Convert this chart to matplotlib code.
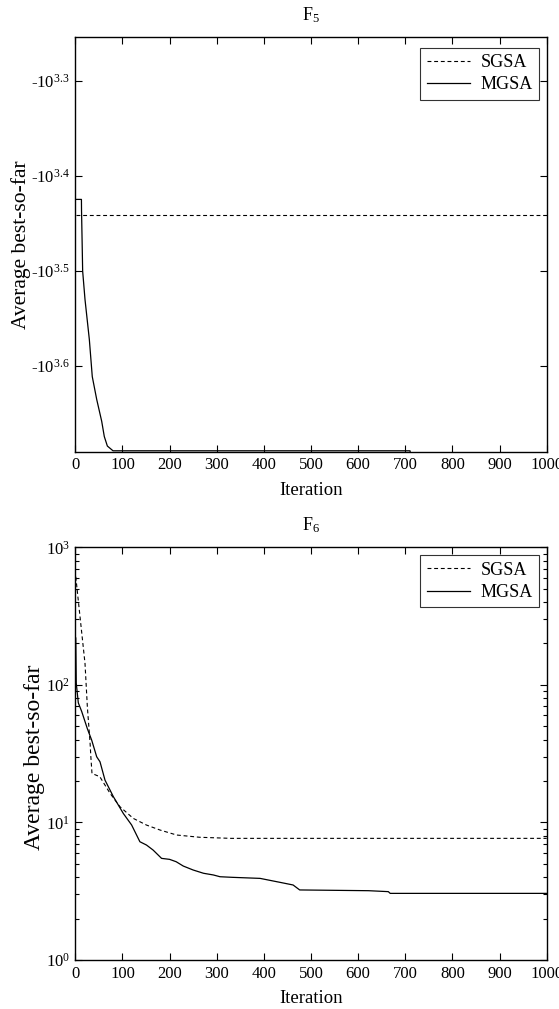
import matplotlib
matplotlib.use("Agg")
import matplotlib.pyplot as plt
import numpy as np

plt.rcParams["font.family"] = ["Liberation Serif", "DejaVu Serif"]
plt.rcParams["mathtext.fontset"] = "custom"
plt.rcParams["mathtext.rm"] = "Liberation Serif"
plt.rcParams["mathtext.it"] = "Liberation Serif:italic"

# F5: average best-so-far (negative values)
f5_sgsa_iter = [1, 1000]
f5_sgsa_val = [-2761, -2761]
f5_mgsa_iter = [1, 13, 13.2, 14.5, 15.6, 20.6, 29.8, 36, 45.4, 56, 61.5, 68, 80, 710, 712, 1000]
f5_mgsa_val = [-2658, -2658, -2729, -2951, -3162, -3388, -3733, -4083, -4315,
               -4550, -4721, -4831, -4887, -4887, -4950, -4950]
f5_yticks = [10 ** 3.3, 10 ** 3.4, 10 ** 3.5, 10 ** 3.6]
f5_yticklabels = ["-$\\mathregular{10^{3.3}}$", "-$\\mathregular{10^{3.4}}$",
                  "-$\\mathregular{10^{3.5}}$", "-$\\mathregular{10^{3.6}}$"]

# F6: average best-so-far
f6_sgsa_iter = [1, 10, 20.6, 25.6, 31.4, 33, 35.4, 52, 73.6, 94.8, 123, 151, 180, 215, 264, 330, 1000]
f6_sgsa_val = [611, 313, 143, 69, 37.6, 30, 22.7, 21.5, 16.3, 13, 10.7, 9.57, 8.8, 8.1, 7.8, 7.66, 7.66]
f6_mgsa_iter = [1, 2, 6.4, 13.6, 25.6, 34.8, 45.4, 52.4, 63, 80.7, 102, 119.5, 137, 151, 165, 183,
                200, 214, 229, 250, 272, 293, 307, 333, 392, 427, 434, 462, 476, 622, 664, 668, 1000]
f6_mgsa_val = [219, 103, 74, 64, 48, 39.6, 30, 27.6, 20.3, 15.4, 11.6, 9.58, 7.24, 6.85, 6.3, 5.48,
               5.39, 5.18, 4.82, 4.51, 4.27, 4.15, 4.03, 3.99, 3.92, 3.71, 3.67, 3.51, 3.23, 3.19,
               3.14, 3.05, 3.05]
f6_yticks = [1, 10, 100, 1000]
f6_yticklabels = ["$\\mathregular{10^{0}}$", "$\\mathregular{10^{1}}$",
                  "$\\mathregular{10^{2}}$", "$\\mathregular{10^{3}}$"]

xticks = list(range(0, 1001, 100))

dash = (0, (3.5, 2.5))

fig = plt.figure(figsize=(5.59, 10.09), dpi=100)
W, H = 559.0, 1009.0


def make_axes(left, top, right, bottom):
    return fig.add_axes([left / W, 1 - bottom / H, (right - left) / W, (bottom - top) / H])


def style_axes(ax):
    ax.set_xlim(0, 1000)
    ax.set_xticks(xticks)
    ax.tick_params(which="major", direction="in", length=5, width=0.8,
                   top=True, right=True, labelsize=12, pad=4)
    ax.tick_params(which="minor", direction="in", length=3, width=0.8, top=True, right=True)
    for s in ax.spines.values():
        s.set_linewidth(1.0)


# ---- F5 ----
ax1 = make_axes(75.3, 37.3, 546.7, 451.7)
ax1.set_yscale("log")
ax1.plot(f5_sgsa_iter, -np.array(f5_sgsa_val), color="black", lw=0.8, linestyle=dash, label="SGSA")
ax1.plot(f5_mgsa_iter, -np.array(f5_mgsa_val), color="black", lw=0.9, label="MGSA")
ax1.set_ylim(10 ** 3.69, 10 ** 3.254)
ax1.set_yticks(f5_yticks)
ax1.set_yticklabels(f5_yticklabels)
ax1.yaxis.set_minor_locator(matplotlib.ticker.NullLocator())
style_axes(ax1)
ax1.set_title("$\\mathregular{F_5}$", fontsize=13, pad=12)
ax1.set_xlabel("Iteration", fontsize=13.5, labelpad=6)
ax1.set_ylabel("Average best-so-far", fontsize=15.5)
ax1.yaxis.set_label_coords(-0.095, 0.5)
leg1 = ax1.legend(loc="upper right", bbox_to_anchor=(1 - 7.4 / 471.4, 1 - 10.4 / 414.4),
                  borderaxespad=0, fontsize=13, frameon=True, fancybox=False,
                  handlelength=2.4, handletextpad=0.6, borderpad=0.35, labelspacing=0.3)
leg1.get_frame().set_edgecolor("black")
leg1.get_frame().set_linewidth(0.8)

# ---- F6 ----
ax2 = make_axes(75.3, 547.3, 546.7, 960.0)
ax2.set_yscale("log")
ax2.plot(f6_sgsa_iter, f6_sgsa_val, color="black", lw=0.8, linestyle=dash, label="SGSA")
ax2.plot(f6_mgsa_iter, f6_mgsa_val, color="black", lw=0.9, label="MGSA")
ax2.set_ylim(1, 1000)
ax2.set_yticks(f6_yticks)
ax2.set_yticklabels(f6_yticklabels)
ax2.yaxis.set_minor_locator(matplotlib.ticker.LogLocator(base=10, subs=np.arange(2, 10)))
ax2.yaxis.set_minor_formatter(matplotlib.ticker.NullFormatter())
style_axes(ax2)
ax2.set_title("$\\mathregular{F_6}$", fontsize=13, pad=12)
ax2.set_xlabel("Iteration", fontsize=13.5, labelpad=6)
ax2.set_ylabel("Average best-so-far", fontsize=17)
ax2.yaxis.set_label_coords(-0.064, 0.49)
leg2 = ax2.legend(loc="upper right", bbox_to_anchor=(1 - 7.4 / 471.4, 1 - 8.0 / 412.7),
                  borderaxespad=0, fontsize=13, frameon=True, fancybox=False,
                  handlelength=2.4, handletextpad=0.6, borderpad=0.35, labelspacing=0.3)
leg2.get_frame().set_edgecolor("black")
leg2.get_frame().set_linewidth(0.8)

fig.savefig("out.png", dpi=100)
